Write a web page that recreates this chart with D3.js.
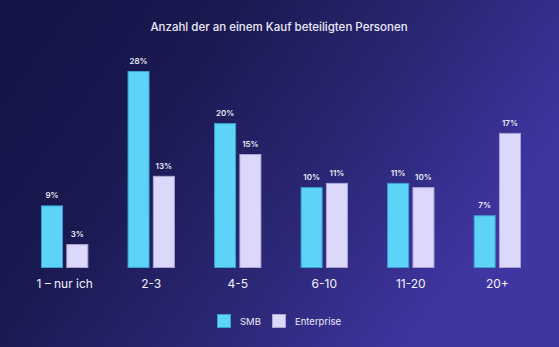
<!DOCTYPE html>
<html><head><meta charset="utf-8">
<script src="https://cdn.jsdelivr.net/npm/d3@7"></script>
<style>html,body{margin:0;padding:0;background:#151448;}svg{display:block;}</style>
</head><body>
<script>
const categories = ["1 – nur ich", "2-3", "4-5", "6-10", "11-20", "20+"];
const seriesNames = ["SMB", "Enterprise"];
// printed value labels
const smbLabels = [9, 28, 20, 10, 11, 7];
const enterpriseLabels = [3, 13, 15, 11, 10, 17];
// bar heights as drawn in the picture (same % units)
const smbValues = [8.9, 28, 20.6, 11.5, 12.1, 7.5];
const enterpriseValues = [3.4, 13.1, 16.2, 12.1, 11.5, 19.2];
const title = "Anzahl der an einem Kauf beteiligten Personen";

const W = 559, H = 347;
const colors = {SMB: "#5dd3f7", Enterprise: "#dcd8fa"};
const strokes = {SMB: "#3b9fcf", Enterprise: "#aaa5d6"};
const font = "Inter, 'Noto Sans', sans-serif";

const svg = d3.select("body").append("svg").attr("width", W).attr("height", H);
const defs = svg.append("defs");
const grad = defs.append("linearGradient").attr("id", "bg")
  .attr("x1", "0%").attr("y1", "0%").attr("x2", "100%").attr("y2", "45%");
grad.append("stop").attr("offset", "0%").attr("stop-color", "#141347");
grad.append("stop").attr("offset", "35%").attr("stop-color", "#1a1950");
grad.append("stop").attr("offset", "70%").attr("stop-color", "#2c2878");
grad.append("stop").attr("offset", "100%").attr("stop-color", "#3f36a2");
svg.append("rect").attr("width", W).attr("height", H).attr("fill", "url(#bg)");

svg.append("text").attr("x", 279).attr("y", 31).attr("text-anchor", "middle")
  .attr("fill", "#ecebf7").attr("font-family", font).attr("font-size", 11.5)
  .attr("font-weight", 500).text(title);

const baseY = 268;
const x0 = d3.scaleBand().domain(categories).range([41, 521]).paddingInner(0.453).paddingOuter(0);
const x1 = d3.scaleBand().domain(seriesNames).range([0, x0.bandwidth()]).paddingInner(0.13);
const y = d3.scaleLinear().domain([0, 28]).range([baseY, 71]);

const data = categories.map((c, i) => ({cat: c, vals: [
  {s: "SMB", v: smbValues[i], l: smbLabels[i]},
  {s: "Enterprise", v: enterpriseValues[i], l: enterpriseLabels[i]}]}));

const g = svg.append("g").selectAll("g").data(data).join("g")
  .attr("transform", d => `translate(${x0(d.cat)},0)`);
g.selectAll("rect").data(d => d.vals).join("rect")
  .attr("x", d => x1(d.s) + 0.5).attr("y", d => y(d.v) + 0.5)
  .attr("width", x1.bandwidth() - 1).attr("height", d => baseY - y(d.v) - 1)
  .attr("fill", d => colors[d.s]).attr("stroke", d => strokes[d.s]).attr("stroke-width", 1);
g.selectAll("text.v").data(d => d.vals).join("text").attr("class", "v")
  .attr("x", d => x1(d.s) + x1.bandwidth() / 2).attr("y", d => y(d.v) - 7)
  .attr("text-anchor", "middle").attr("fill", "#ecebf7").attr("font-family", font)
  .attr("font-size", 8).attr("font-weight", 600).text(d => d.l + "%");

const xAxis = svg.append("g").attr("transform", `translate(0,${baseY})`)
  .call(d3.axisBottom(x0).tickSize(0).tickPadding(11));
xAxis.select(".domain").remove();
xAxis.selectAll("text").attr("fill", "#f2f1fa").attr("font-family", font)
  .attr("font-size", 12).attr("font-weight", 400);

const legend = svg.append("g");
const lx = [217, 272];
seriesNames.forEach((s, i) => {
  legend.append("rect").attr("x", lx[i] + 0.5).attr("y", 314.5).attr("width", 13).attr("height", 13)
    .attr("fill", colors[s]).attr("stroke", strokes[s]);
  legend.append("text").attr("x", lx[i] + 23).attr("y", 324.5).attr("fill", "#ecebf7")
    .attr("font-family", font).attr("font-size", 9.5).text(s);
});
</script>
</body></html>
